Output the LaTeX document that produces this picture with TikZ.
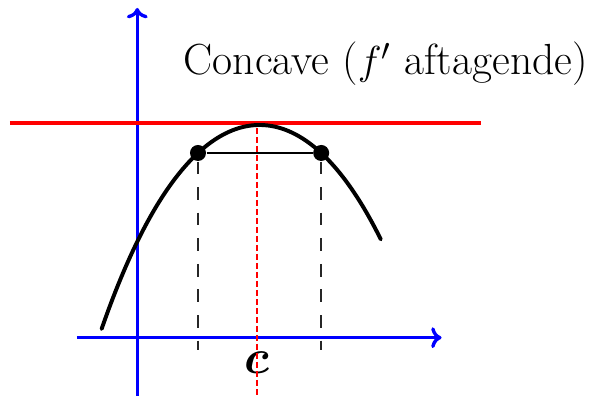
\documentclass[tikz,border=0pt]{standalone}
\usepackage{amsmath,bm}
\usetikzlibrary{arrows.meta}

\begin{document}
\begin{tikzpicture}[
  declare function = {f(\x) = 3.3875 - 0.5789*(\x-3.245)^2 - 0.0192*(\x-3.245)^4;},
  axis/.style    = {blue, line width=1.2pt,
                    -{Computer Modern Rightarrow[length=1.3mm, width=2.6mm]}},
  curve/.style   = {black, line width=1.4pt, line cap=round},
  tangent/.style = {red, line width=1.5pt},
  chord/.style   = {black, line width=0.6pt},
  guide/.style   = {black!85, line width=0.7pt, dash pattern=on 4.5pt off 4.6pt},
  vguide/.style  = {red, line width=0.7pt, dash pattern=on 2.1pt off 1.1pt},
  dot/.style     = {circle, fill=black, inner sep=0pt, minimum size=2mm},
]
\useasboundingbox (0,0) rectangle (7.6375,4.95);

% ---- axes -------------------------------------------------------------------
\coordinate (xL) at (0.9625,0.729);
\coordinate (xR) at (5.52,0.729);
\coordinate (yB) at (1.716,0);
\coordinate (yT) at (1.716,4.85);
\draw[axis] (xL) -- (xR);
\draw[axis] (yB) -- (yT);

% ---- tangent at the top -----------------------------------------------------
\coordinate (tL) at (0.125,3.4125);
\coordinate (tR) at (6.0125,3.4125);
\draw[tangent] (tL) -- (tR);

% ---- the curve --------------------------------------------------------------
\draw[curve] plot[domain=1.27:4.76, samples=80, smooth] (\x,{f(\x)});

% ---- two points at equal height ---------------------------------------------
\node[dot] (pL) at (2.475,{f(2.475)}) {};
\node[dot] (pR) at (4.015,{f(4.015)}) {};
\draw[chord] (pL) -- (pR);

\coordinate (gL) at (2.475,0.58);
\coordinate (gR) at (4.015,0.58);
\draw[guide] (pL) -- (gL);
\draw[guide] (pR) -- (gR);

% ---- labels -----------------------------------------------------------------
\node[font=\fontsize{19}{22}\selectfont, inner sep=0pt] (cLbl) at (3.215,0.41) {$\boldsymbol{c}$};
\node[font=\fontsize{15.5}{18}\selectfont, anchor=base west, inner sep=0pt] (lbl)
  at (2.29,4.0125) {Concave ($f'$ aftagende)};

% ---- vertical through c -----------------------------------------------------
\coordinate (vT) at (3.215,3.35);
\coordinate (vB) at (3.215,0);
\draw[vguide] (vT) -- (vB);

\end{tikzpicture}
\end{document}
